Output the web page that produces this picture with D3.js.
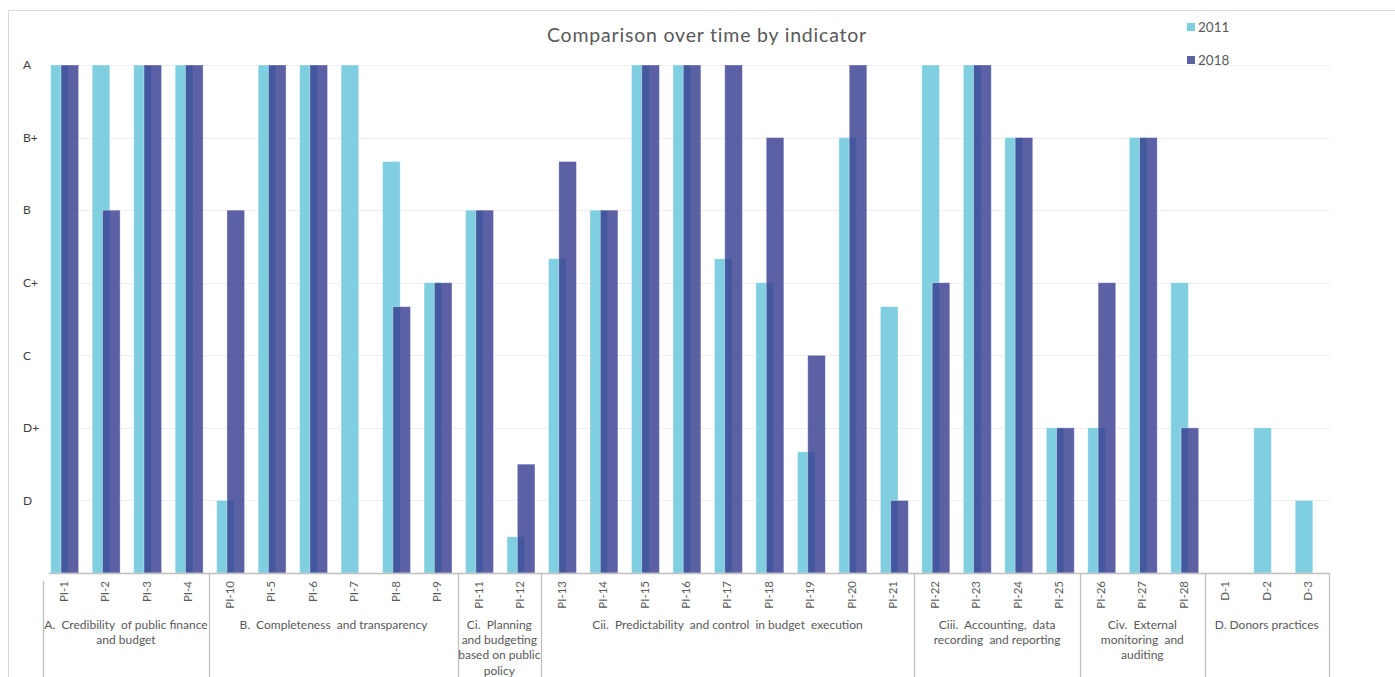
<!DOCTYPE html>
<html>
<head>
<meta charset="utf-8">
<script src="https://cdn.jsdelivr.net/npm/d3@7"></script>
<style>
  html, body { margin: 0; padding: 0; background: #fff; }
  svg { display: block; }
  text { font-family: Lato, "Open Sans", sans-serif; fill: #595959; }
</style>
</head>
<body>
<svg id="chart" width="1395" height="677"></svg>
<script>
// Indicators, in display order
const indicators = [
  "PI-1","PI-2","PI-3","PI-4",
  "PI-10","PI-5","PI-6","PI-7","PI-8","PI-9",
  "PI-11","PI-12",
  "PI-13","PI-14","PI-15","PI-16","PI-17","PI-18","PI-19","PI-20","PI-21",
  "PI-22","PI-23","PI-24","PI-25",
  "PI-26","PI-27","PI-28",
  "D-1","D-2","D-3"
];

// Scores on a 0..7 scale (D=1 ... A=7); 0 means no score
const scores2011 = [
  7, 7, 7, 7,
  1, 7, 7, 7, 5.67, 4,
  5, 0.5,
  4.33, 5, 7, 7, 4.33, 4, 1.67, 6, 3.67,
  7, 7, 6, 2,
  2, 6, 4,
  0, 2, 1
];
const scores2018 = [
  7, 5, 7, 7,
  5, 7, 7, 0, 3.67, 4,
  5, 1.5,
  5.67, 5, 7, 7, 7, 6, 3, 7, 1,
  4, 7, 6, 2,
  4, 6, 2,
  0, 0, 0
];

// Grade labels on the value axis
const gradeLabels = ["D", "D+", "C", "C+", "B", "B+", "A"];
const gradeValues = [1, 2, 3, 4, 5, 6, 7];

// Indicator groups: name lines and number of indicators in each
const groupLines = [
  ["A.  Credibility  of public finance", "and budget"],
  ["B.  Completeness  and transparency"],
  ["Ci.  Planning", "and budgeting", "based on public", "policy"],
  ["Cii.  Predictability  and control  in budget  execution"],
  ["Ciii.  Accounting,  data", "recording  and reporting"],
  ["Civ.  External", "monitoring  and", "auditing"],
  ["D. Donors practices"]
];
const groupSizes = [4, 6, 2, 9, 4, 3, 3];

const seriesNames = ["2011", "2018"];
const seriesColors = ["#80cfe0", "#33398f"];

const svg = d3.select("#chart");

// Outer frame
svg.append("path")
  .attr("d", "M8.5,677 L8.5,10.5 L1395,10.5")
  .attr("fill", "none").attr("stroke", "#d9d9d9").attr("stroke-width", 1);

const plotLeft = 43, plotRight = 1329, plotTop = 65, plotBase = 573;

const x = d3.scaleBand().domain(indicators).range([plotLeft, plotRight]).padding(0);
const y = d3.scaleLinear().domain([0, 7]).range([plotBase, plotTop]);
const bw = x.bandwidth();

// Horizontal gridlines
svg.append("g").selectAll("line").data(gradeValues).join("line")
  .attr("x1", plotLeft + 7).attr("x2", plotRight + 1)
  .attr("y1", d => Math.round(y(d)) + 0.5).attr("y2", d => Math.round(y(d)) + 0.5)
  .attr("stroke", "#efefef").attr("stroke-width", 1);

// Value axis labels
const yAxis = d3.axisLeft(y).tickValues(gradeValues)
  .tickFormat((d, i) => gradeLabels[i]).tickSize(0);
const yg = svg.append("g").attr("transform", "translate(31,0)").call(yAxis);
yg.select(".domain").remove();
yg.selectAll("text").attr("text-anchor", "start").attr("x", -8)
  .style("font-size", "12px").style("fill", "#404040")
  .style("font-family", "Lato, 'Open Sans', sans-serif");

// Bars
const barW = bw * 0.425;
const offsets = [bw * 0.186, bw * 0.434];
const seriesData = [scores2011, scores2018];
seriesData.forEach((vals, s) => {
  svg.append("g").selectAll("rect")
    .data(indicators.map((k, i) => ({ k, v: vals[i] })).filter(d => d.v > 0))
    .join("rect")
    .attr("x", d => x(d.k) + offsets[s])
    .attr("y", d => y(d.v))
    .attr("width", barW)
    .attr("height", d => plotBase - y(d.v))
    .attr("fill", seriesColors[s])
    .attr("fill-opacity", s === 1 ? 0.8 : 1)
    .attr("stroke", "#ffffff").attr("stroke-opacity", 0.45).attr("stroke-width", 0.8);
});

// Category axis baseline
svg.append("line")
  .attr("x1", plotLeft + 6).attr("x2", plotRight).attr("y1", plotBase + 0.5).attr("y2", plotBase + 0.5)
  .attr("stroke", "#bfbfbf").attr("stroke-width", 1.3);

// Indicator labels, rotated
svg.append("g").selectAll("text").data(indicators).join("text")
  .attr("transform", d => `translate(${x(d) + bw / 2 + 4},581) rotate(-90)`)
  .attr("text-anchor", "end")
  .style("font-size", "11.5px")
  .text(d => d);

// Group dividers and names
let start = 0;
const bounds = [];
groupSizes.forEach(n => { bounds.push([start, start + n]); start += n; });
const divX = [plotLeft].concat(bounds.map(b => x(indicators[b[1] - 1]) + bw));
svg.append("g").selectAll("line").data(divX).join("line")
  .attr("x1", d => Math.round(d) + 0.5).attr("x2", d => Math.round(d) + 0.5)
  .attr("y1", (d, i) => i === 0 ? 581 : plotBase).attr("y2", 677)
  .attr("stroke", "#bfbfbf").attr("stroke-width", 1.3);

bounds.forEach((b, gi) => {
  const cx = (x(indicators[b[0]]) + x(indicators[b[1] - 1]) + bw) / 2;
  const t = svg.append("text").attr("text-anchor", "middle")
    .style("font-size", "12px").style("white-space", "pre");
  groupLines[gi].forEach((line, li) => {
    t.append("tspan").attr("x", cx).attr("y", 629 + li * 15.2).text(line);
  });
});

// Title
svg.append("text")
  .attr("x", 707).attr("y", 42).attr("text-anchor", "middle")
  .style("font-size", "19.5px").style("letter-spacing", "0.8px")
  .text("Comparison over time by indicator");

// Legend
const legendY = [27, 60];
seriesNames.forEach((name, i) => {
  svg.append("rect").attr("x", 1187).attr("y", legendY[i] - 4).attr("width", 8).attr("height", 8)
    .attr("fill", seriesColors[i]).attr("fill-opacity", i === 1 ? 0.8 : 1);
  svg.append("text").attr("x", 1198).attr("y", legendY[i] + 5)
    .style("font-size", "13.5px").text(name);
});
</script>
</body>
</html>
